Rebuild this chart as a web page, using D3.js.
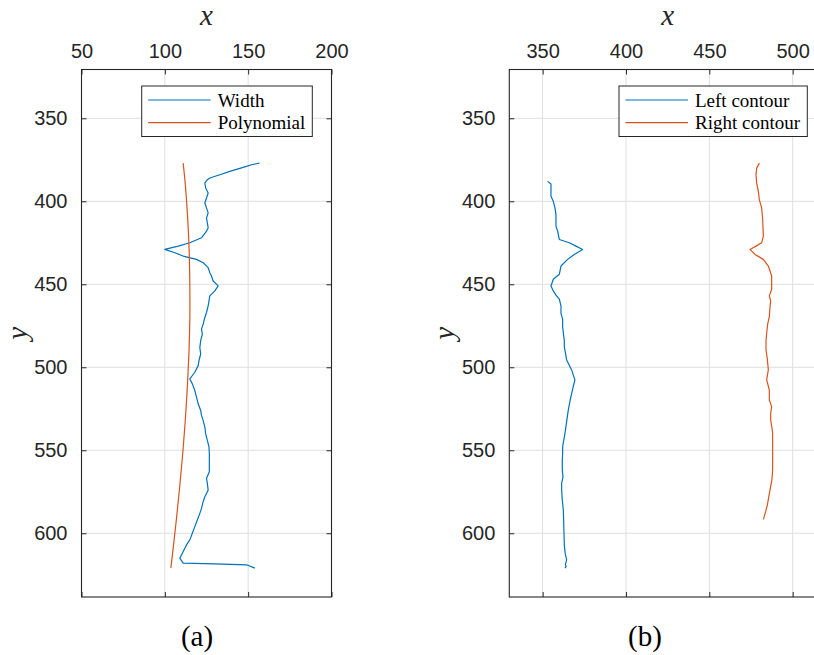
<!DOCTYPE html>
<html>
<head>
<meta charset="utf-8">
<script src="https://cdn.jsdelivr.net/npm/d3@7"></script>
<style>
  html, body { margin: 0; padding: 0; background: #fff; }
  svg { display: block; }
</style>
</head>
<body>
<svg id="chart" width="814" height="655"></svg>
<script>
// ---- data ------------------------------------------------------------
// (a) measured width along the height, plus its polynomial fit  [x, y]
const widthPts = [
  [156.7,377],[152,378],[149,379],[144,380.5],[139,382],[133,384],[127,386],[125.5,387],
  [124,389],[124.5,392],[126,395],[125,398],[124,401],[125,404],[126,407],[125,410],
  [125.5,413],[126,416],[125,418],[122,422],[115,425],[108,427],[100,429],[106,431],
  [111,433],[119,435],[123,437],[126,440],[127,443],[128,445],[129,448],[132,451],
  [130,454],[127,457],[126.5,460],[126,463],[125,467],[124,470],[123,474],[122,477],
  [122.5,480],[121.5,484],[121,488],[121.5,492],[120.5,496],[120,499],[118,503],[115,507],
  [116.5,510],[118,514],[119,518],[120,522],[121.5,526],[122,529],[123,532],[124,536],
  [124.5,540],[125.5,544],[126.5,548],[126.7,552],[126.7,557],[126.7,563],[125,567],
  [125.5,570],[126,574],[124,578],[123,581],[122,585],[121,588],[119.5,592],[118,596],
  [116.5,600],[115,604],[113,607],[112,609],[110.5,612],[109,615],[111,618],[130,618.5],
  [149,619],[154,621]
];
const polyPts = [
  [111,377],[112.3,390],[113.7,410],[114.6,430],[115,450],[115,470],[114.5,490],
  [113.6,510],[112.4,530],[110.9,550],[109.1,570],[107.1,590],[104.9,610],[103.6,621]
];
// (b) left and right contours  [x, y]
const leftPts = [
  [353,388],[355,389.6],[355,393],[355,397],[356.4,400],[357.4,404],[358,408],[358,412],
  [358,415],[359,418],[360,423],[366,425],[370,427],[374,429],[369,432],[365,435],
  [361,439],[360,444],[356.4,447],[355,451],[356.4,454],[358,456.5],[360,459],[361,463],
  [361,467.5],[362,471],[362,475.5],[362.5,480],[363,484],[363,487.6],[364.4,495.6],
  [367.4,501.6],[368.5,505],[369.4,507.6],[368.5,511],[367.4,515.7],[366.5,520],
  [365.4,525.7],[364.5,532],[363.4,539.8],[362,547.8],[362,552],[361.8,556],[361.8,561.9],
  [362.2,566],[361.4,570],[361.4,574],[361.8,580],[362.4,586],[362.6,592],[362.8,600],
  [363,607],[363.5,612],[364.4,616],[363.6,619],[364.2,620],[363.4,621]
];
const rightPts = [
  [480,377],[478.4,380],[478,384],[478.4,389],[479.4,394],[480,399],[481.4,404],[482,411],
  [482.2,416],[482.4,421],[481.4,425],[478,427],[474.4,429],[477.4,432],[482.4,435],
  [485.4,439],[487.4,445],[487.4,449],[487.4,453],[486,457],[486.8,460],[486.4,464],
  [486,469.5],[485,474],[484.4,479.5],[484,484],[484,489.6],[484.8,495],[485.4,501.6],
  [484.4,507.6],[486,513.7],[486,519.7],[487.4,523.7],[486.8,528],[486.8,531.7],
  [487.5,536],[488,539.8],[488,545],[488,549.8],[488,556],[488,561.9],[487.5,568],
  [486.4,574],[485.5,579],[484.8,583],[483.8,587],[482.4,591.6]
];

const xTicksA = [50, 100, 150, 200];
const xTicksB = [350, 400, 450, 500];
const yTicks = [350, 400, 450, 500, 550, 600];
const xDomainA = [50, 200];
const xDomainB = [330, 520];
const yDomain = [320.6, 638.4];

const blue = "#0072BD", orange = "#D95319";

// ---- drawing ---------------------------------------------------------
const svg = d3.select("#chart");
svg.append("rect").attr("width", 814).attr("height", 655).attr("fill", "#fff");

const plotTop = 69.5, plotBottom = 597;
const axisCol = "#262626", gridCol = "#dfdfdf";
const sansFont = "'Liberation Sans', Arial, sans-serif";
const serifFont = "'Liberation Serif', 'Times New Roman', serif";

function panel(cfg) {
  const x = d3.scaleLinear().domain(cfg.xDomain).range([cfg.left, cfg.right]);
  const y = d3.scaleLinear().domain(yDomain).range([plotTop, plotBottom]);
  const g = svg.append("g");

  // grid
  g.append("g").selectAll("line").data(cfg.xTicks).join("line")
    .attr("x1", d => x(d)).attr("x2", d => x(d))
    .attr("y1", plotTop).attr("y2", plotBottom)
    .attr("stroke", gridCol).attr("stroke-width", 1);
  g.append("g").selectAll("line").data(yTicks).join("line")
    .attr("x1", cfg.left).attr("x2", cfg.right)
    .attr("y1", d => y(d)).attr("y2", d => y(d))
    .attr("stroke", gridCol).attr("stroke-width", 1);

  // curves
  cfg.series.forEach(s => {
    const line = d3.line().x(d => x(d[0])).y(d => y(d[1]))
      .curve(s.smooth ? d3.curveNatural : d3.curveLinear);
    g.append("path").datum(s.data)
      .attr("d", line)
      .attr("fill", "none").attr("stroke", s.color)
      .attr("stroke-width", 1.2).attr("stroke-linejoin", "round");
  });

  // axes: ticks inside, labels outside
  const xTop = d3.axisTop(x).tickValues(cfg.xTicks).tickSize(-5).tickPadding(12);
  const xBot = d3.axisBottom(x).tickValues(cfg.xTicks).tickSize(-5).tickFormat("");
  const yL = d3.axisLeft(y).tickValues(yTicks).tickSize(-5).tickPadding(14);
  const yR = d3.axisRight(y).tickValues(yTicks).tickSize(-5).tickFormat("");

  const styleAxis = sel => {
    sel.select(".domain").remove();
    sel.selectAll(".tick line").attr("stroke", axisCol).attr("stroke-width", 1);
    sel.selectAll(".tick text").attr("fill", axisCol)
      .style("font-family", sansFont).style("font-size", "20px");
  };
  g.append("g").attr("transform", `translate(0,${plotTop})`).call(xTop).call(styleAxis);
  g.append("g").attr("transform", `translate(0,${plotBottom})`).call(xBot).call(styleAxis);
  g.append("g").attr("transform", `translate(${cfg.left},0)`).call(yL).call(styleAxis);
  g.append("g").attr("transform", `translate(${cfg.right},0)`).call(yR).call(styleAxis);

  g.append("rect")
    .attr("x", cfg.left).attr("y", plotTop)
    .attr("width", cfg.right - cfg.left).attr("height", plotBottom - plotTop)
    .attr("fill", "none").attr("stroke", axisCol).attr("stroke-width", 1.1);

  // axis titles
  g.append("text").text("x")
    .attr("x", (cfg.left + cfg.right) / 2).attr("y", 25)
    .attr("text-anchor", "middle").attr("fill", axisCol)
    .style("font-family", serifFont).style("font-style", "italic").style("font-size", "29px");
  g.append("text").text("y")
    .attr("transform", `translate(${cfg.left - 55},${(plotTop + plotBottom) / 2}) rotate(-90)`)
    .attr("text-anchor", "middle").attr("fill", axisCol)
    .style("font-family", serifFont).style("font-style", "italic").style("font-size", "29px");

  // legend
  const lg = g.append("g");
  lg.append("rect")
    .attr("x", cfg.legend.x).attr("y", 86)
    .attr("width", cfg.legend.w).attr("height", 50.5)
    .attr("fill", "#fff").attr("stroke", axisCol).attr("stroke-width", 1);
  cfg.series.forEach((s, i) => {
    const ly = 100 + i * 22.7;
    lg.append("line")
      .attr("x1", cfg.legend.x + 6.5).attr("x2", cfg.legend.x + 69)
      .attr("y1", ly).attr("y2", ly)
      .attr("stroke", s.color).attr("stroke-width", 1.2);
    lg.append("text").text(s.name)
      .attr("x", cfg.legend.x + 76).attr("y", ly + 6.5)
      .attr("fill", "#000")
      .style("font-family", serifFont).style("font-size", "19px");
  });

  // caption
  g.append("text").text(cfg.caption)
    .attr("x", cfg.captionX).attr("y", 646)
    .attr("text-anchor", "middle").attr("fill", "#000")
    .style("font-family", serifFont).style("font-size", "29px");
}

panel({
  left: 81.5, right: 331.5, xDomain: xDomainA, xTicks: xTicksA,
  series: [
    { name: "Width", data: widthPts, color: blue },
    { name: "Polynomial", data: polyPts, color: orange, smooth: true }
  ],
  legend: { x: 141.7, w: 170.6 },
  caption: "(a)", captionX: 197
});

panel({
  left: 509.3, right: 826, xDomain: xDomainB, xTicks: xTicksB,
  series: [
    { name: "Left contour", data: leftPts, color: blue },
    { name: "Right contour", data: rightPts, color: orange }
  ],
  legend: { x: 619, w: 188.3 },
  caption: "(b)", captionX: 645
});
</script>
</body>
</html>
